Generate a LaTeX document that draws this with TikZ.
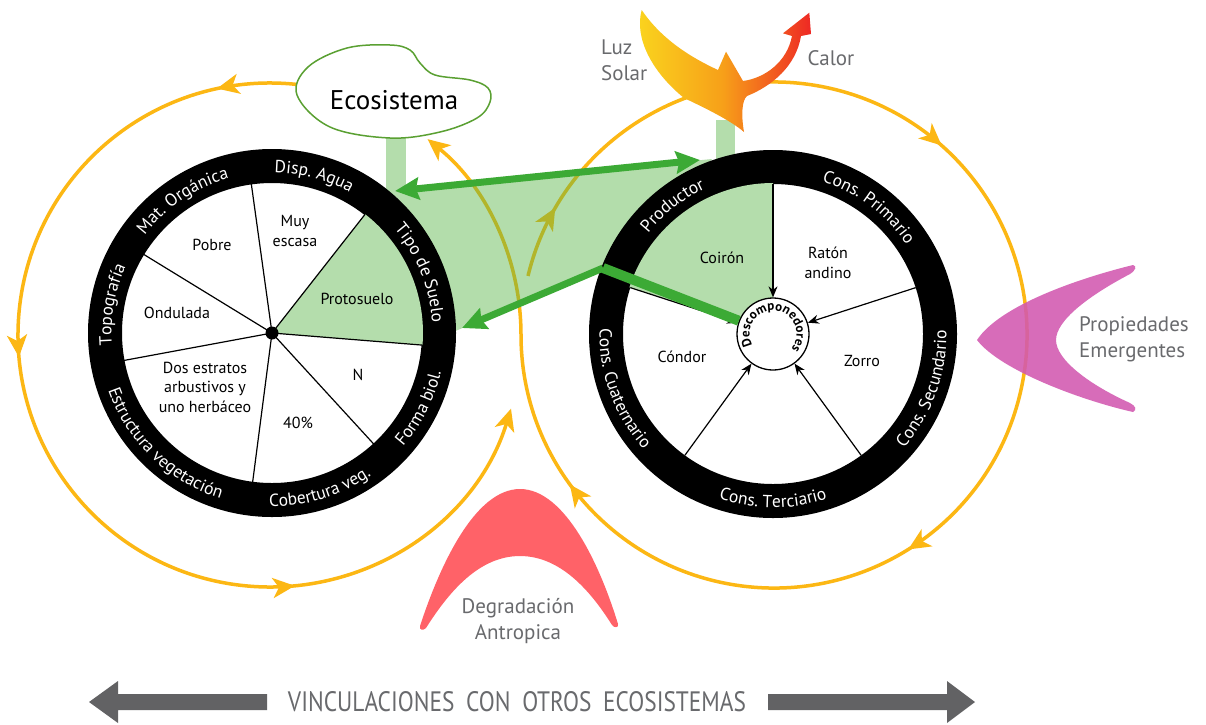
\documentclass[tikz,border=0pt]{standalone}
\usepackage{fontspec}
\setmainfont{PT Sans}
\usepackage{graphicx}
\usetikzlibrary{arrows.meta,decorations.markings,decorations.text,calc}

\definecolor{ylw}{RGB}{252,183,20}
\definecolor{grn}{RGB}{60,170,53}
\definecolor{lgrn}{RGB}{180,221,172}
\definecolor{bgrn}{RGB}{88,180,70}
\definecolor{mag}{RGB}{210,88,176}
\definecolor{coral}{RGB}{255,98,104}
\definecolor{txtgray}{RGB}{105,106,109}
\definecolor{arrgray}{RGB}{98,98,100}
\definecolor{ecogrn}{RGB}{90,160,50}
\definecolor{sunY}{RGB}{250,214,30}
\definecolor{sunO}{RGB}{247,160,25}
\definecolor{sunR}{RGB}{238,40,36}

\newcommand\ringfnt{\fontsize{17.5}{17.5}\selectfont}
\newcommand\cellfnt{\fontsize{16}{19.5}\selectfont}
\newcommand\lblfnt{\fontsize{21}{26}\selectfont}
\newcommand\decfnt{\bfseries\fontsize{13}{13}\selectfont}

\newcommand\toplbl[3]{\path[decorate, decoration={text along path, text color=white, text align=center, text={|\ringfnt\color{white}|#3}}] ($(#1)+(#2+70:160.5)$) arc[start angle=#2+70, end angle=#2-70, radius=160.5];}
\newcommand\botlbl[3]{\path[decorate, decoration={text along path, text color=white, text align=center, text={|\ringfnt\color{white}|#3}}] ($(#1)+(#2-70:173.5)$) arc[start angle=#2-70, end angle=#2+70, radius=173.5];}

\tikzset{
  ywire/.style={draw=ylw, line width=3.5pt},
  ring/.style={circle, draw=black, line width=34pt, minimum size=334pt, inner sep=0pt, outer sep=0pt, fill=white},
  spoke/.style={draw=black, line width=1.2pt},
  feed/.style={draw=black, line width=1.2pt, arrows={-Stealth[length=11pt,width=9pt]}},
  cell/.style={font=\cellfnt, align=center, inner sep=0pt},
  glbl/.style={text=txtgray, font=\lblfnt, inner sep=0pt},
  garrow/.style={draw=grn, line width=7pt},
}

\begin{document}
\begin{tikzpicture}[x=1pt,y=1pt, >={Stealth[length=22pt,width=20pt,inset=6pt]}]
\useasboundingbox (0,0) rectangle (1206,-724);
\fill[white] (0,0) rectangle (1206,-724);

\coordinate (c1) at (270,-335);
\coordinate (c2) at (774,-335);
\coordinate (LC) at (272,-333);
\coordinate (RC) at (773,-334);

% yellow loops
\draw[ywire, postaction={decorate}, decoration={markings,
  mark=at position 0.07 with {\arrow[ylw]{>}},
  mark=at position 0.39 with {\arrow[ylw]{>}},
  mark=at position 0.74 with {\arrow[ylw]{>}}}, ->]
  ($(c1)+(84:252)$) arc[start angle=84, end angle=343, radius=252];
\draw[ywire, postaction={decorate}, decoration={markings,
  mark=at position 0.042 with {\arrow[ylw]{>}},
  mark=at position 0.297 with {\arrow[ylw]{>}},
  mark=at position 0.565 with {\arrow[ylw]{>}},
  mark=at position 0.781 with {\arrow[ylw]{>}}}, ->]
  ($(c2)+(166.5:253)$) arc[start angle=166.5, end angle=-180, radius=253]
  arc[start angle=0, end angle=51, radius=252];

% green connecting region and bars
\fill[bgrn, fill opacity=0.45] (376,-193) -- (712,-159) -- (604,-268) -- (446,-335) -- cycle;
\fill[lgrn] (386,-130) rectangle (406,-200);
\fill[lgrn] (716,-120) rectangle (735,-165);

% Ecosistema bubble
\draw[ecogrn, line width=1.5pt, fill=white] plot[smooth cycle, tension=0.6] coordinates {
  (297,-95) (308,-67) (347,-48) (390,-45) (410,-50) (420,-63) (435,-75) (470,-80)
  (488,-88) (490,-102) (477,-118) (440,-132) (390,-138) (330,-127)};
\node[font=\fontsize{27}{27}\selectfont, inner sep=0pt] (eco) at (394,-100) {Ecosistema};

% sun shape
\shade[left color=sunY, right color=sunR, middle color=sunO]
  (641.7,-10) .. controls (634,-38) and (652,-72) .. (684,-98)
  .. controls (705,-108) and (730,-120) .. (744,-132)
  .. controls (741,-115) and (742,-100) .. (747,-96)
  .. controls (772,-86) and (796,-66) .. (801,-36)
  -- (811,-34) -- (809.3,-12.7) -- (783,-33.3) -- (792,-36)
  .. controls (787,-62) and (765,-78) .. (743,-81)
  -- (726,-51.7) -- (718,-70)
  .. controls (692,-58) and (662,-40) .. (641.7,-10) -- cycle;
\node[glbl, align=left, anchor=west] (luz) at (601,-60) {Luz\\Solar};
\node[glbl] (calor) at (831,-58) {Calor};

% wheels
\node[ring] (LW) at (LC) {};
\node[ring] (RW) at (RC) {};

\fill[lgrn] (LC) -- ++(-4.6:151) arc[start angle=-4.6, end angle=51.9, radius=151] -- cycle;
\fill[lgrn] (RC) -- ++(90:151) arc[start angle=90, end angle=162, radius=151] -- cycle;

\foreach \a in {97.9,51.9,-4.6,-47.5,-97.4,190.5,148.5} \draw[spoke] (LC) -- ++(\a:151);
\node[circle, fill=black, inner sep=0pt, minimum size=13pt] (LD) at (LC) {};

\node[circle, draw=black, line width=1.3pt, fill=white, minimum size=72pt, inner sep=0pt] (D) at (RC) {};
\foreach \a in {90,18,-54,-126,162} \draw[feed] ($(RC)+(\a:150)$) -- (D);
\path[decorate, decoration={text along path, text align=center, text={|\decfnt|Descomponedores}}]
  ($(RC)+(220:23.5)$) arc[start angle=220, end angle=-50, radius=23.5];

% cell texts
\node[cell] (muy) at (295,-231) {Muy\\escasa};
\node[cell] (pobre) at (212,-245) {Pobre};
\node[cell] (proto) at (357,-299) {Protosuelo};
\node[cell] (ond) at (177,-313) {Ondulada};
\node[cell] (dos) at (205,-387) {Dos estratos\\arbustivos y\\uno herbáceo};
\node[cell] (n) at (358,-375) {N};
\node[cell] (cuarenta) at (298,-423) {40\%};
\node[cell] (coiron) at (722,-258) {Coirón};
\node[cell] (raton) at (828,-263) {Ratón\\andino};
\node[cell] (zorro) at (862,-361) {Zorro};
\node[cell] (condor) at (682,-357) {Cóndor};

% ring labels
\toplbl{LC}{75}{Disp. Agua}
\toplbl{LC}{124}{Mat. Orgánica}
\toplbl{LC}{170}{Topografía}
\toplbl{LC}{22}{Tipo de Suelo}
\botlbl{LC}{226}{Estructura vegetación}
\botlbl{LC}{287}{Cobertura veg.}
\botlbl{LC}{333}{Forma biol.}
\toplbl{RC}{128}{Productor}
\toplbl{RC}{53}{Cons. Primario}
\botlbl{RC}{340}{Cons. Secundario}
\botlbl{RC}{270}{Cons. Terciario}
\botlbl{RC}{200}{Cons. Cuaternario}

% green arrows
\coordinate (gL) at (395,-191);
\coordinate (gR) at (700,-160);
\coordinate (gJ) at (603,-268);
\coordinate (gT) at (462,-328);
\draw[garrow, arrows={Stealth[length=24pt,width=22pt,inset=3pt]-Stealth[length=24pt,width=22pt,inset=3pt]}] (gL) -- (gR);
\draw[garrow, arrows={-Stealth[length=24pt,width=22pt,inset=3pt]}] (gJ) -- (gT);
\draw[draw=grn, line width=10pt] (gJ) -- (D);

% emergent properties
\fill[mag, fill opacity=0.88] (1133,-265) .. controls (1080,-278) and (1000,-305) .. (977,-340)
  .. controls (1000,-370) and (1080,-400) .. (1133,-412)
  .. controls (1137,-410) and (1136,-406) .. (1130,-403)
  .. controls (1090,-385) and (1056,-360) .. (1056,-340)
  .. controls (1056,-320) and (1090,-295) .. (1130,-274)
  .. controls (1136,-270) and (1137,-266) .. (1133,-265) -- cycle;
\node[glbl, align=left, anchor=west] (prop) at (1079,-339) {Propiedades\\Emergentes};

% degradation
\fill[coral] (420,-626) .. controls (440,-565) and (475,-489) .. (520,-489)
  .. controls (565,-489) and (600,-565) .. (618,-624)
  .. controls (619,-628) and (614,-628) .. (612,-625)
  .. controls (590,-590) and (560,-556) .. (520,-556)
  .. controls (480,-556) and (450,-590) .. (426,-628)
  .. controls (423,-631) and (419,-630) .. (420,-626) -- cycle;
\node[glbl, align=center] (degr) at (518,-621) {Degradación\\Antropica};

% bottom arrows
\fill[arrgray] (89,-702) -- (118,-681) -- (118,-694) -- (267,-694) -- (267,-710) -- (118,-710) -- (118,-723) -- cycle;
\fill[arrgray] (975,-702) -- (947,-681) -- (947,-694) -- (768,-694) -- (768,-710) -- (947,-710) -- (947,-723) -- cycle;
\node[text=txtgray, inner sep=0pt] (vinc) at (517,-702) {\resizebox{458pt}{20pt}{VINCULACIONES\hspace{0.5em}CON\hspace{0.5em}OTROS\hspace{0.5em}ECOSISTEMAS}};
\end{tikzpicture}
\end{document}
